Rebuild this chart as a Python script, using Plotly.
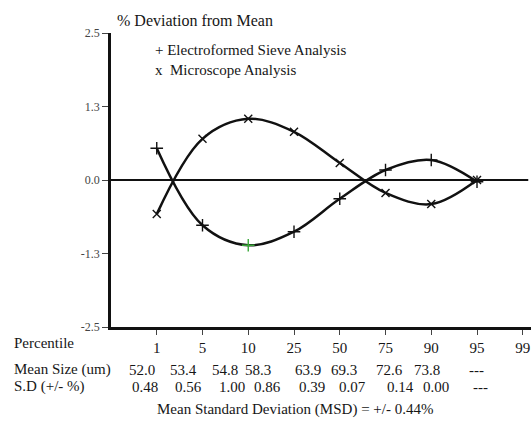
import plotly.graph_objects as go

# Percentile categories and summary table
percentiles = ["1", "5", "10", "25", "50", "75", "90", "95", "99"]
mean_size = ["52.0", "53.4", "54.8", "58.3", "63.9", "69.3", "72.6", "73.8", "---"]
std_dev = ["0.48", "0.56", "1.00", "0.86", "0.39", "0.07", "0.14", "0.00", "---"]

# % deviation from mean at each percentile (first eight percentiles)
sieve_dev = [0.54, -0.77, -1.11, -0.88, -0.32, 0.17, 0.34, -0.03]
microscope_dev = [-0.58, 0.70, 1.04, 0.82, 0.29, -0.22, -0.41, 0.00]

y_ticks = [-2.5, -1.25, 0.0, 1.25, 2.5]
y_ticktext = ["-2.5", "-1.3", "0.0", "1.3", "2.5"]

# column positions of the table rows along the percentile axis
mean_size_x = [0.67, 1.58, 2.50, 3.22, 4.30, 5.10, 6.09, 6.91, 7.98]
std_dev_x = [0.74, 1.69, 2.65, 3.43, 4.40, 5.27, 6.33, 7.11, 8.07]

FONT = "'Liberation Serif', 'Times New Roman', 'DejaVu Serif', serif"
TXT = "#161616"

x_pos = list(range(1, len(percentiles) + 1))

fig = go.Figure()

sieve_marker_colors = ["#111111"] * len(sieve_dev)
sieve_marker_colors[2] = "#3aa83a"

fig.add_trace(go.Scatter(
    x=x_pos[:len(sieve_dev)], y=sieve_dev, mode="lines+markers",
    line=dict(color="#111111", width=2.5, shape="spline", smoothing=1.0),
    marker=dict(symbol="cross-thin", size=9,
                line=dict(color=sieve_marker_colors, width=1.4)),
    name="Electroformed Sieve Analysis", showlegend=False,
))
fig.add_trace(go.Scatter(
    x=x_pos[:len(microscope_dev)], y=microscope_dev, mode="lines+markers",
    line=dict(color="#111111", width=2.5, shape="spline", smoothing=1.0),
    marker=dict(symbol="x-thin", size=8, line=dict(color="#111111", width=1.4)),
    name="Microscope Analysis", showlegend=False,
))

# zero reference line
fig.add_shape(type="line", xref="x", yref="y", x0=0, x1=9.12, y0=0, y1=0,
              line=dict(color="#111111", width=2), layer="below")

ann = []
ann.append(dict(x=0.01, y=1.041, xref="paper", yref="paper", text="% Deviation from Mean",
                showarrow=False, xanchor="left", yanchor="middle",
                font=dict(family=FONT, size=16, color=TXT)))
ann.append(dict(x=0.099, y=0.943, xref="paper", yref="paper",
                text="+ Electroformed Sieve Analysis", showarrow=False,
                xanchor="left", yanchor="middle", font=dict(family=FONT, size=15, color=TXT)))
ann.append(dict(x=0.099, y=0.874, xref="paper", yref="paper",
                text="x  Microscope Analysis", showarrow=False,
                xanchor="left", yanchor="middle", font=dict(family=FONT, size=15, color=TXT)))

row_label_x = -0.236
for label, yy in [("Percentile", -0.054), ("Mean Size (um)", -0.146), ("S.D (+/- %)", -0.203)]:
    ann.append(dict(x=row_label_x, y=yy, xref="paper", yref="paper", text=label,
                    showarrow=False, xanchor="left", yanchor="middle",
                    font=dict(family=FONT, size=15, color=TXT)))

for xv, txt in zip(mean_size_x, mean_size):
    ann.append(dict(x=xv, y=-0.146, xref="x", yref="paper", text=txt, showarrow=False,
                    xanchor="center", yanchor="middle",
                    font=dict(family=FONT, size=15, color=TXT)))
for xv, txt in zip(std_dev_x, std_dev):
    ann.append(dict(x=xv, y=-0.203, xref="x", yref="paper", text=txt, showarrow=False,
                    xanchor="center", yanchor="middle",
                    font=dict(family=FONT, size=15, color=TXT)))

ann.append(dict(x=0.438, y=-0.282, xref="paper", yref="paper",
                text="Mean Standard Deviation (MSD) = +/- 0.44%", showarrow=False,
                xanchor="center", yanchor="middle",
                font=dict(family=FONT, size=15, color=TXT)))

fig.update_layout(
    width=531, height=427,
    margin=dict(l=111, r=0, t=33, b=100),
    paper_bgcolor="white", plot_bgcolor="white",
    font=dict(family=FONT),
    annotations=ann,
    xaxis=dict(range=[0, 9.18], tickvals=x_pos, ticktext=percentiles,
               showgrid=False, zeroline=False, showline=True, linecolor="#111111",
               linewidth=2.5, ticks="outside", ticklen=5, tickwidth=1,
               tickcolor="#444444", tickfont=dict(family=FONT, size=15, color=TXT)),
    yaxis=dict(range=[-2.5, 2.5], tickvals=y_ticks, ticktext=y_ticktext,
               showgrid=False, zeroline=False, showline=True, linecolor="#111111",
               linewidth=2.5, ticks="outside", ticklen=6, tickwidth=1,
               tickcolor="#444444", tickfont=dict(family=FONT, size=12, color="#444444")),
)

fig.write_html("out.html")
